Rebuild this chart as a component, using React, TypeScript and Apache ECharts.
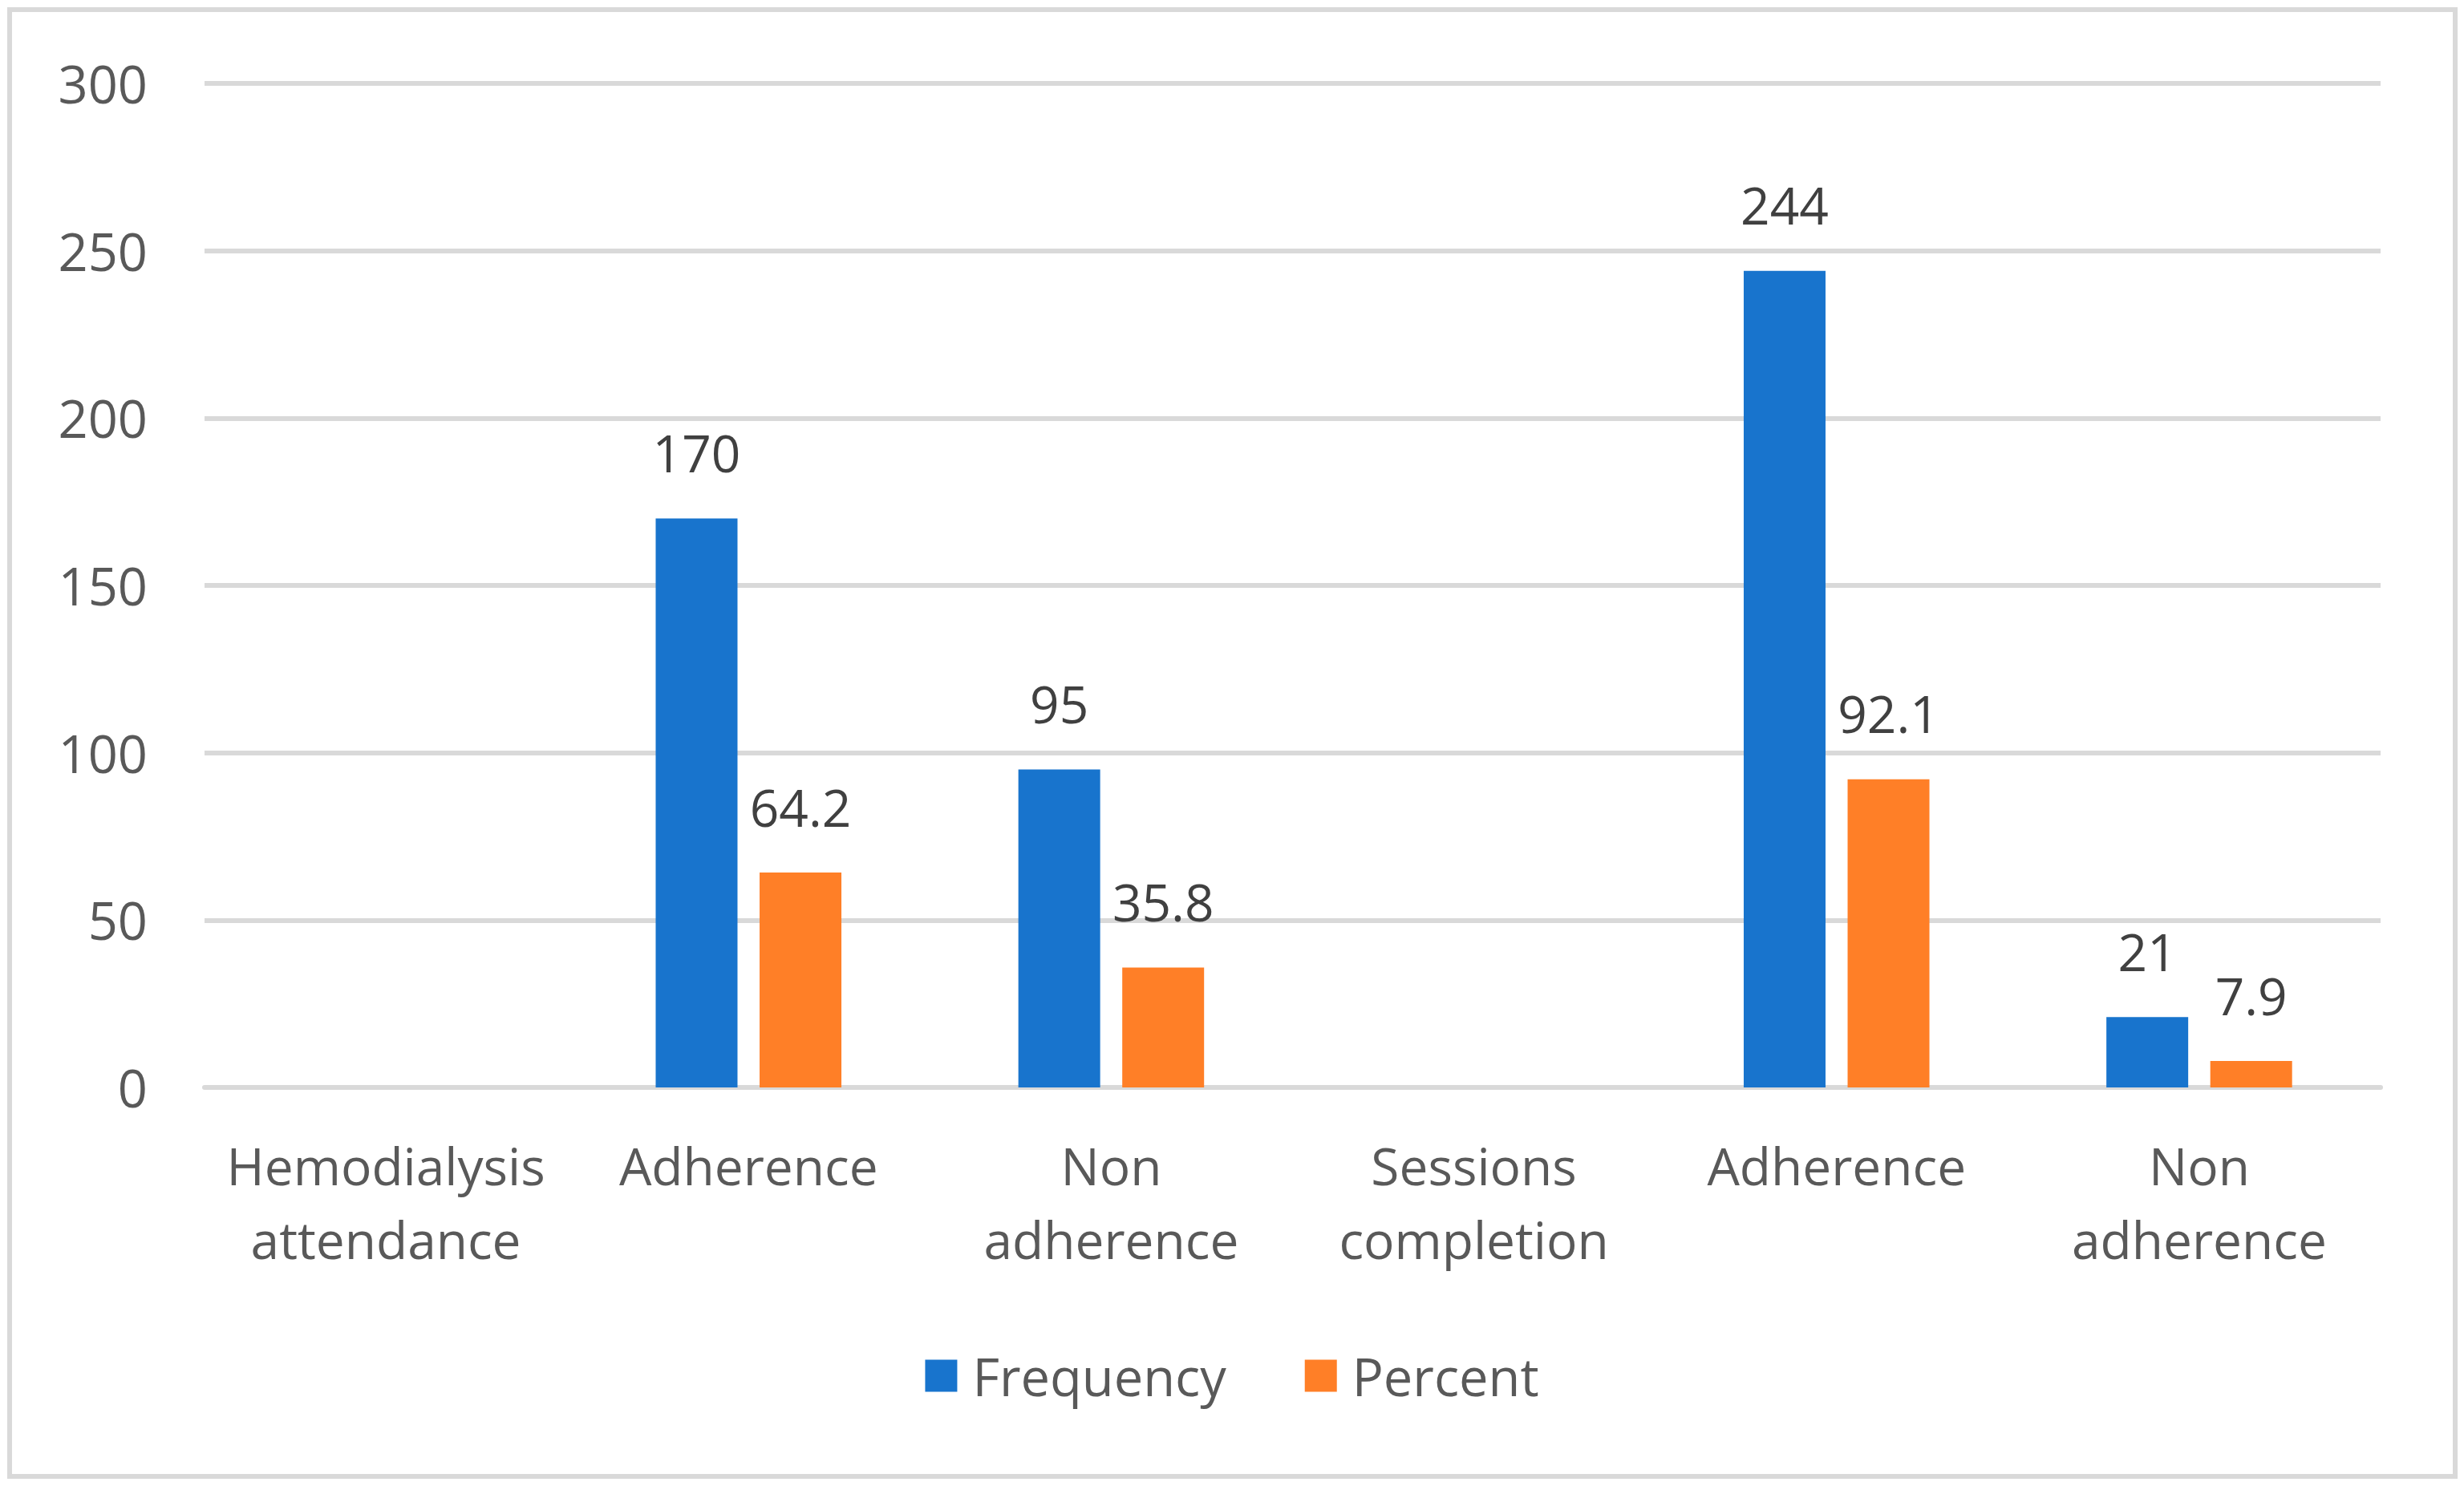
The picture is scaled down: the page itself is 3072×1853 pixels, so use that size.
import React, { useEffect, useRef } from "react";
import * as echarts from "echarts";

const categories = [
  "Hemodialysis\nattendance",
  "Adherence",
  "Non\nadherence",
  "Sessions\ncompletion",
  "Adherence",
  "Non\nadherence",
];
const frequency = [null, 170, 95, null, 244, 21];
const percent = [null, 64.2, 35.8, null, 92.1, 7.9];
const yMin = 0;
const yMax = 300;
const yInterval = 50;

const FONT = "'Open Sans', 'Noto Sans', sans-serif";

export default function App() {
  const ref = useRef<HTMLDivElement>(null);
  useEffect(() => {
    if (!ref.current) return;
    const chart = echarts.init(ref.current, undefined, { renderer: "svg" });
    const labelCfg = {
      show: true,
      position: "top",
      distance: 50,
      color: "#404040",
      fontSize: 64,
      fontFamily: FONT,
    };
    chart.setOption({
      animation: false,
      backgroundColor: "#ffffff",
      textStyle: { fontFamily: FONT },
      graphic: [
        {
          type: "rect",
          shape: { x: 12, y: 12, width: 3049, height: 1829 },
          style: { fill: "none", stroke: "#d9d9d9", lineWidth: 6 },
          silent: true,
        },
      ],
      grid: { left: 255, right: 104, top: 104, bottom: 497 },
      legend: {
        bottom: 100,
        left: "center",
        itemWidth: 40,
        itemHeight: 40,
        itemGap: 98,
        icon: "rect",
        textStyle: {
          color: "#595959",
          fontSize: 65,
          fontFamily: FONT,
          padding: [0, 0, 0, 14],
        },
        data: ["Frequency", "Percent"],
      },
      xAxis: {
        type: "category",
        data: categories,
        axisTick: { show: false },
        axisLine: { lineStyle: { color: "#d9d9d9", width: 6 } },
        axisLabel: {
          color: "#595959",
          fontSize: 64,
          fontFamily: FONT,
          lineHeight: 92,
          margin: 51,
          interval: 0,
        },
      },
      yAxis: {
        type: "value",
        min: yMin,
        max: yMax,
        interval: yInterval,
        axisLine: { show: false },
        axisTick: { show: false },
        axisLabel: {
          color: "#595959",
          fontSize: 65,
          fontFamily: FONT,
          margin: 71,
        },
        splitLine: { lineStyle: { color: "#d9d9d9", width: 6 } },
      },
      series: [
        {
          name: "Frequency",
          type: "bar",
          data: frequency,
          barWidth: 102,
          barGap: "27%",
          itemStyle: { color: "#1874cd" },
          label: labelCfg,
        },
        {
          name: "Percent",
          type: "bar",
          data: percent,
          barWidth: 102,
          barGap: "27%",
          itemStyle: { color: "#ff7f27" },
          label: labelCfg,
        },
      ],
    });
    return () => chart.dispose();
  }, []);
  return (
    <div
      ref={ref}
      style={{
        position: "absolute",
        left: 0,
        top: 0,
        width: 3072,
        height: 1853,
        background: "#ffffff",
      }}
    />
  );
}
